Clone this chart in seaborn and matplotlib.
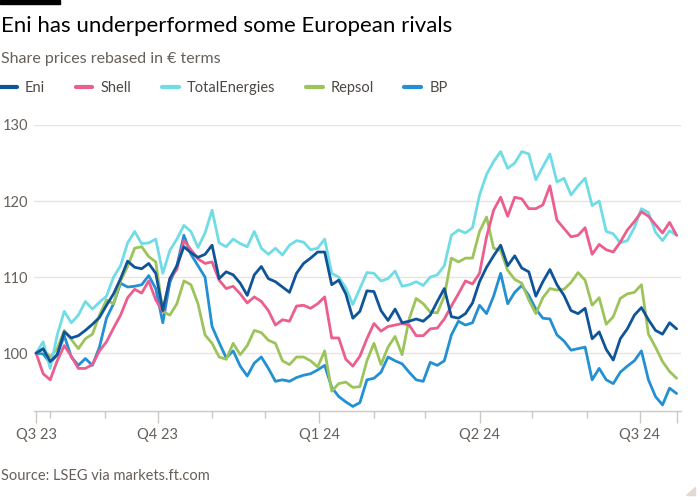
import numpy as np
import pandas as pd
import matplotlib.pyplot as plt
from matplotlib.patches import Rectangle, Polygon
import seaborn as sns

# Share prices rebased to 100, sampled every 4 days from 24 Jul 2023
dates = pd.date_range("2023-07-24", periods=92, freq="4D")

eni = [100, 100.6, 98.9, 99.8, 102.8, 102.0, 102.3, 103.0, 103.8, 104.7,
       106.3, 107.8, 109.8, 112.1, 111.3, 111.1, 111.8, 110.5, 105.6, 109.8,
       111.5, 114.0, 113.2, 112.6, 113.0, 114.2, 109.8, 110.7, 110.3, 109.2,
       107.6, 110.3, 111.4, 109.8, 109.4, 108.7, 108.0, 110.5, 111.8, 112.5,
       113.3, 113.3, 109.0, 109.6, 107.8, 104.6, 105.5, 108.2, 108.1, 105.6,
       104.3, 105.8, 104.0, 104.2, 104.5, 104.2, 105.0, 106.8, 108.5, 104.8,
       104.6, 105.2, 106.6, 109.4, 111.3, 112.8, 114.2, 111.5, 112.8, 111.2,
       110.7, 107.5, 109.4, 111.0, 109.0, 107.6, 105.6, 105.2, 105.9, 101.9,
       102.8, 100.5, 99.1, 101.9, 103.2, 105.0, 106.0, 104.4, 103.0, 102.5,
       104.0, 103.2]
shell = [100, 97.3, 96.5, 99.0, 101.0, 99.6, 98.0, 98.0, 98.5, 100.3,
         101.5, 103.3, 105.0, 107.3, 108.4, 107.9, 109.5, 107.0, 105.5, 109.8,
         111.0, 114.8, 113.6, 112.4, 111.8, 112.0, 109.6, 108.5, 108.8, 107.8,
         106.6, 107.4, 106.8, 105.6, 103.7, 104.4, 104.2, 106.2, 106.3, 105.9,
         106.5, 107.4, 102.0, 102.0, 99.2, 98.3, 99.6, 101.9, 103.9, 102.9,
         103.5, 103.7, 103.9, 103.7, 102.3, 102.3, 103.2, 103.3, 104.5, 106.2,
         107.8, 109.5, 109.1, 110.5, 115.3, 118.8, 120.5, 118.0, 120.5, 120.3,
         119.0, 119.0, 119.5, 122.0, 117.5, 116.4, 115.3, 115.5, 116.5, 113.0,
         114.3, 113.6, 113.3, 114.6, 116.2, 117.3, 118.6, 118.0, 116.9, 115.8,
         117.2, 115.5]
total = [100, 101.5, 98.0, 102.4, 105.5, 104.0, 105.0, 106.8, 105.8, 106.7,
         107.5, 110.0, 111.5, 114.5, 116.0, 114.4, 114.5, 115.0, 110.5, 113.5,
         115.0, 116.8, 116.0, 113.9, 115.8, 118.8, 114.5, 114.0, 115.0, 114.4,
         114.0, 116.0, 113.8, 113.0, 113.8, 112.9, 114.2, 114.8, 114.6, 113.6,
         113.8, 115.0, 110.5, 110.0, 108.6, 106.4, 108.5, 110.6, 110.5, 109.5,
         109.8, 110.8, 108.8, 109.0, 109.4, 108.9, 110.0, 110.3, 111.5, 115.5,
         116.2, 115.8, 116.5, 120.8, 123.5, 125.2, 126.5, 124.3, 125.0, 126.5,
         126.2, 122.8, 124.5, 126.2, 122.5, 123.0, 120.8, 122.0, 123.0, 119.4,
         120.0, 116.0, 115.7, 114.5, 114.8, 116.5, 119.0, 118.5, 115.9, 114.8,
         116.1, 115.5]
repsol = [100, 100.5, 99.5, 100.6, 103.0, 101.8, 100.6, 101.9, 102.5, 105.0,
          107.0, 106.5, 109.5, 111.4, 113.8, 114.0, 112.7, 112.0, 105.5, 105.0,
          106.5, 109.5, 109.0, 106.5, 102.4, 101.3, 99.5, 99.2, 101.3, 99.8,
          101.0, 103.0, 102.7, 101.7, 101.3, 99.0, 98.5, 99.5, 99.5, 99.0,
          98.2, 100.3, 95.0, 96.0, 96.2, 95.5, 95.6, 99.0, 101.3, 98.5,
          100.8, 102.2, 99.8, 104.5, 107.2, 106.5, 105.4, 105.3, 107.5, 112.5,
          112.0, 112.5, 112.5, 116.0, 117.9, 113.8, 113.5, 110.9, 109.7, 109.2,
          107.0, 105.2, 107.3, 108.5, 108.3, 108.4, 109.3, 110.6, 109.6, 106.3,
          107.3, 103.8, 104.8, 107.2, 107.8, 108.0, 109.0, 102.5, 100.8, 98.9,
          97.6, 96.7]
bp = [100, 99.9, 98.7, 99.8, 102.3, 99.5, 98.4, 99.3, 98.4, 100.8,
      104.6, 106.5, 109.2, 108.7, 108.8, 109.0, 110.2, 108.5, 104.0, 109.3,
      111.5, 115.5, 113.0, 111.5, 110.0, 103.5, 101.4, 99.4, 100.3, 98.3,
      97.0, 98.7, 99.5, 98.0, 96.3, 96.5, 96.3, 96.8, 97.1, 97.3,
      97.8, 98.4, 95.5, 94.3, 93.6, 93.0, 93.5, 96.5, 96.7, 97.5,
      99.5, 99.0, 98.6, 97.5, 96.5, 96.3, 98.8, 98.4, 99.0, 102.4,
      104.2, 103.7, 104.0, 106.3, 105.2, 107.5, 110.5, 106.5, 108.0, 108.9,
      107.6, 105.8, 104.6, 104.5, 102.4, 101.6, 100.4, 100.6, 100.8, 96.5,
      98.0, 96.5, 96.0, 97.5, 98.3, 99.0, 100.3, 96.5, 94.3, 93.2,
      95.4, 94.7]

companies = ["Eni", "Shell", "TotalEnergies", "Repsol", "BP"]
colors = ["#0f5499", "#eb5e8d", "#70dce6", "#9dc45a", "#2290d2"]

quarter_ticks = ["2023-07-24", "2023-10-01", "2024-01-01", "2024-04-01", "2024-07-01", "2024-07-22"]
quarter_labels = ["Q3 23", "Q4 23", "Q1 24", "Q2 24", "Q3 24", ""]
month_ticks = ["2023-08-01", "2023-09-01", "2023-11-01", "2023-12-01",
               "2024-02-01", "2024-03-01", "2024-05-01", "2024-06-01"]
y_ticks = [100, 110, 120, 130]

df = pd.DataFrame({"date": dates, "Eni": eni, "Shell": shell, "TotalEnergies": total,
                   "Repsol": repsol, "BP": bp})
long_df = df.melt(id_vars="date", var_name="company", value_name="price")

sns.set_theme(style="white")
plt.rcParams["font.family"] = ["Lato", "DejaVu Sans"]

grey = "#66605c"
fig = plt.figure(figsize=(7, 5), dpi=100)
ax = fig.add_axes([34 / 700, 89 / 500, 647 / 700, 286 / 500])

sns.lineplot(data=long_df, x="date", y="price", hue="company", hue_order=companies,
             palette=colors, linewidth=2.0, ax=ax)
# Eni on top
for i, line in enumerate(ax.lines):
    line.set_zorder(10 - i)

ax.set_xlim(pd.Timestamp("2023-07-24") - pd.Timedelta(days=1.2),
            pd.Timestamp("2024-07-22") + pd.Timedelta(days=2.5))
ax.set_ylim(92.4, 130)
ax.set_yticks(y_ticks)
ax.set_xticks(pd.to_datetime(quarter_ticks))
ax.set_xticklabels(quarter_labels)
ax.set_xticks(pd.to_datetime(month_ticks), minor=True)
ax.set_xlabel("")
ax.set_ylabel("")

ax.yaxis.grid(True, color="#ebe3dc", linewidth=1)
ax.set_axisbelow(True)
for side in ["left", "top", "right"]:
    ax.spines[side].set_visible(False)
ax.spines["bottom"].set_color("#cfc8c1")
ax.spines["bottom"].set_linewidth(1)

ax.tick_params(axis="y", length=0, pad=4, labelsize=10.5, labelcolor=grey)
ax.tick_params(axis="x", which="major", length=8.5, width=1, color="#cfc8c1",
               pad=4, labelsize=10.5, labelcolor=grey, bottom=True)
ax.tick_params(axis="x", which="minor", length=5, width=1, color="#cfc8c1", bottom=True)

sns.move_legend(ax, "center left", bbox_to_anchor=(0, 1 - 88 / 500),
                bbox_transform=fig.transFigure, ncol=5, frameon=False, title=None,
                fontsize=10.5, handlelength=1.15, handletextpad=0.55,
                columnspacing=2.1, borderpad=0, borderaxespad=0)
leg = ax.get_legend()
for h in leg.get_lines():
    h.set_linewidth(3)
for t in leg.get_texts():
    t.set_color("#4d4845")

fig.text(0.002, 1 - 32 / 500, "Eni has underperformed some European rivals",
         fontsize=16, color="#000000", va="baseline", ha="left")
fig.text(0.002, 1 - 63 / 500, "Share prices rebased in € terms",
         fontsize=11.5, color=grey, va="baseline", ha="left")
fig.text(0.002, 1 - 480 / 500, "Source: LSEG via markets.ft.com",
         fontsize=10.5, color=grey, va="baseline", ha="left")

fig.patches.append(Rectangle((0, 1 - 4 / 500), 60 / 700, 4 / 500,
                             transform=fig.transFigure, color="#000000"))
fig.patches.append(Polygon([(686 / 700, 1 - 495 / 500), (695 / 700, 1 - 495 / 500),
                            (695 / 700, 1 - 487 / 500)],
                           transform=fig.transFigure, color="#e2dad2"))

fig.savefig("out.png", dpi=100, facecolor="white")
